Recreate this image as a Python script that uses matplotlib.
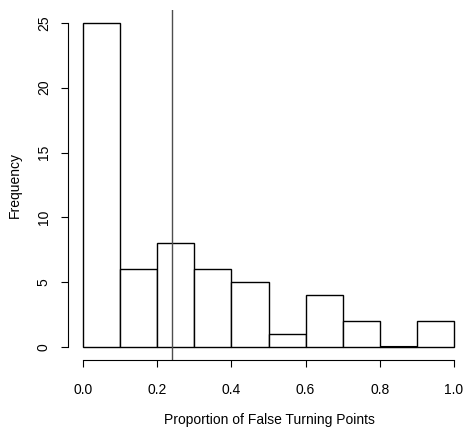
import matplotlib.pyplot as plt
import matplotlib.transforms as mtransforms

plt.rcParams['font.family'] = ['Liberation Sans', 'DejaVu Sans']

# histogram bins and counts
breaks = [0.0, 0.1, 0.2, 0.3, 0.4, 0.5, 0.6, 0.7, 0.8, 0.9, 1.0]
counts = [25, 6, 8, 6, 5, 1, 4, 2, 0, 2]
mean_line = 0.24
xticks = [0.0, 0.2, 0.4, 0.6, 0.8, 1.0]
yticks = [0, 5, 10, 15, 20, 25]

fig = plt.figure(figsize=(4.67, 4.30), dpi=100)
ax = fig.add_axes([0.146, 0.162, 0.854, 0.8154])

lefts = breaks[:-1]
widths = [b - a for a, b in zip(breaks[:-1], breaks[1:])]
ax.bar(lefts, counts, width=widths, align='edge',
       facecolor='white', edgecolor='black', linewidth=1.0)
# empty bins still show as a flat line, like R's hist()
for a, w, c in zip(lefts, widths, counts):
    if c == 0:
        ax.hlines(0, a, a + w, color='black', linewidth=1.5)
ax.axvline(mean_line, color='0.3', linewidth=1.0)

ax.set_xlim(-0.04, 1.035)
ax.set_ylim(-1, 26)

# R-style detached axes
for s in ['top', 'right']:
    ax.spines[s].set_visible(False)
ax.spines['left'].set_bounds(0, 25)
ax.spines['bottom'].set_bounds(0, 1)
ax.spines['left'].set_linewidth(0.8)
ax.spines['bottom'].set_linewidth(0.8)

ax.set_xticks(xticks)
ax.set_xticklabels([f"{t:.1f}" for t in xticks])
ax.set_yticks(yticks)
ax.set_yticklabels([str(t) for t in yticks], rotation=90, va='center')
ax.tick_params(axis='both', direction='out', length=5, width=0.8, labelsize=10)
ax.tick_params(axis='x', pad=11)
ax.tick_params(axis='y', pad=7.5)

fig.text(269 / 467, 1 - 420 / 430, "Proportion of False Turning Points",
         ha='center', va='center', fontsize=10)
ty = mtransforms.blended_transform_factory(fig.transFigure, ax.transData)
ax.text(15 / 467, 12.5, "Frequency", transform=ty, rotation=90,
        ha='center', va='center', fontsize=10)

fig.savefig("out.png", dpi=100)
